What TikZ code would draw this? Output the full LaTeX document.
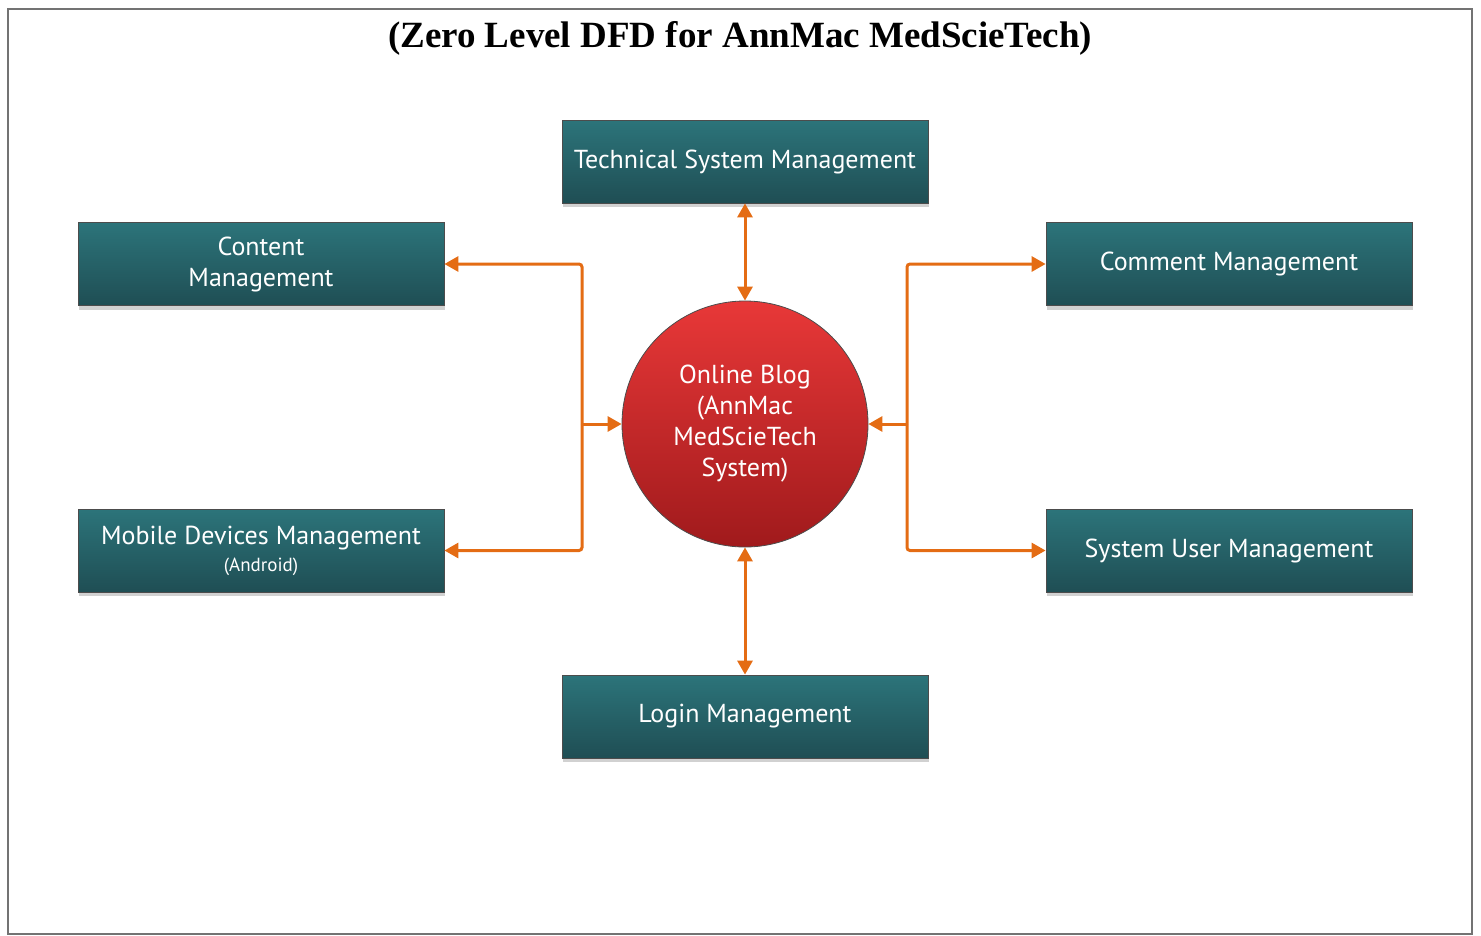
\documentclass[tikz,border=0pt]{standalone}
\usepackage{fontspec}
\setmainfont{Liberation Serif}
\newfontfamily\boxfont{PT Sans}
\usetikzlibrary{arrows.meta,shadows,shapes.geometric}
\definecolor{flow}{RGB}{228,108,20}
\definecolor{tealtop}{RGB}{44,116,122}
\definecolor{tealbot}{RGB}{31,78,84}
\definecolor{redtop}{RGB}{232,56,56}
\definecolor{redbot}{RGB}{160,26,28}
\tikzset{
  procbox/.style={rectangle, draw=black!70, line width=0.8pt, top color=tealtop, bottom color=tealbot,
    minimum width=366pt, minimum height=83pt, text=white, align=center,
    font=\boxfont\fontsize{26}{31}\selectfont, inner sep=0pt,
    drop shadow={shadow xshift=1pt, shadow yshift=-4pt, fill=black!40, opacity=0.45}},
  hub/.style={circle, draw=black!70, line width=0.8pt, top color=redtop, bottom color=redbot,
    minimum size=246pt, text=white, align=center, inner sep=0pt,
    font=\boxfont\fontsize{26}{31}\selectfont},
  flowline/.style={draw=flow, line width=3pt, rounded corners=3pt,
    arrows={-Triangle[length=14pt,width=15pt]}},
  twoway/.style={draw=flow, line width=3pt,
    arrows={Triangle[length=14pt,width=15pt]-Triangle[length=14pt,width=15pt]}}
}
\begin{document}
\begin{tikzpicture}[x=1pt,y=-1pt]
\useasboundingbox (0,0) rectangle (1481,935);
\draw[black!55, line width=2pt] (8,9) rectangle (1472,934);
\node[font=\bfseries\fontsize{37}{42}\selectfont] (title) at (740,38) {(Zero Level DFD for AnnMac MedScieTech)};

\node[procbox] (tech) at (745,161.5) {Technical System Management};
\node[procbox] (content) at (261,264) {Content\\Management};
\node[procbox] (comment) at (1229,264) {Comment Management};
\node[procbox] (mobile) at (261,550.5) {Mobile Devices Management\\[-4pt]{\fontsize{19}{22}\selectfont (Android)}};
\node[procbox] (user) at (1229,550.5) {System User Management};
\node[procbox] (login) at (745,716.5) {Login Management};
\node[hub] (blog) at (745,424) {Online Blog\\(AnnMac\\MedScieTech\\System)};

\coordinate (lb) at (582,424);
\coordinate (rb) at (907,424);

\draw[twoway] (tech.south) -- (blog.north);
\draw[twoway] (login.north) -- (blog.south);
\draw[flowline] (lb) -- (blog.west);
\draw[flowline] (lb) |- (content.east);
\draw[flowline] (lb) |- (mobile.east);
\draw[flowline] (rb) -- (blog.east);
\draw[flowline] (rb) |- (comment.west);
\draw[flowline] (rb) |- (user.west);
\end{tikzpicture}
\end{document}
